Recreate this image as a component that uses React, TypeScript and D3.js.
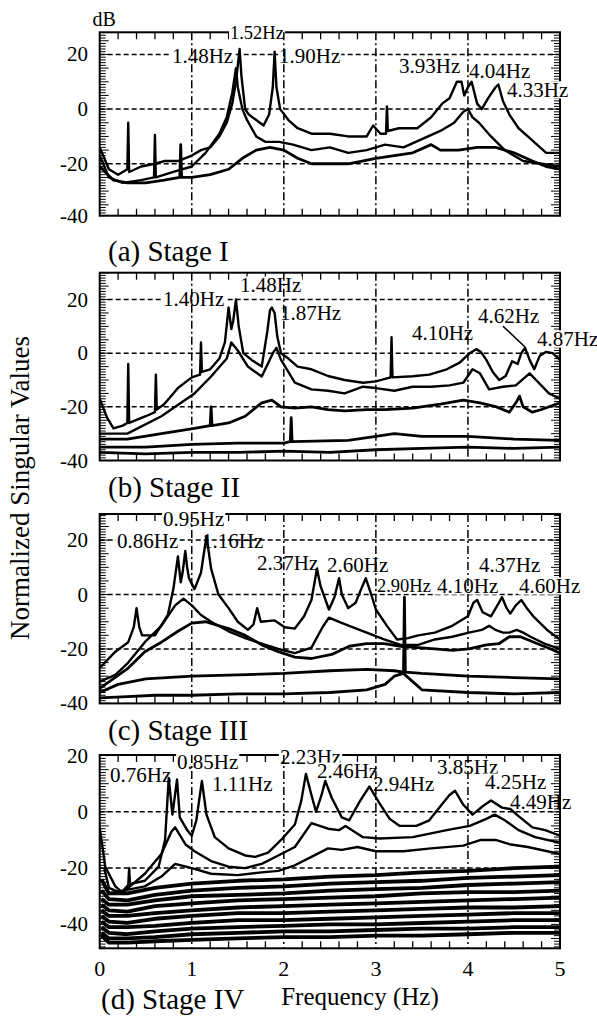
import React from 'react';
import * as d3 from 'd3';

type Pt = [number, number];

const FREQ_TICKS = [0, 1, 2, 3, 4, 5];
const DB_LABELS = [20, 0, -20, -40];
const DB_GRID = [20, 0, -20];

// ─── Stage I ────────────────────────────────────────────────────────────────
const A1: Pt[] = [[0,-14],[0.05,-18],[0.1,-22],[0.2,-24],[0.3,-22],[0.31,-5],[0.32,-23],[0.45,-21],[0.6,-20],[0.7,-19],[0.85,-19],[1.0,-17],[1.1,-15],[1.2,-14],[1.3,-10],[1.38,-5],[1.44,2],[1.48,10],[1.52,22],[1.54,12],[1.58,0],[1.62,-2],[1.7,-4],[1.78,-6],[1.84,-2],[1.88,8],[1.9,21],[1.92,8],[1.96,0],[2.05,-4],[2.15,-7],[2.3,-9],[2.5,-9],[2.7,-10],[2.9,-10],[2.97,-6],[3.05,-9],[3.11,-9],[3.12,1],[3.13,-8],[3.25,-7],[3.45,-7],[3.6,-3],[3.72,2],[3.8,4],[3.88,10],[3.93,10],[3.96,5],[4.0,8],[4.04,10],[4.1,2],[4.15,0],[4.22,4],[4.3,8],[4.33,9],[4.38,3],[4.45,-2],[4.55,-7],[4.65,-10],[4.75,-13],[4.85,-16],[5,-16]];
const A2: Pt[] = [[0,-17],[0.1,-25],[0.25,-27],[0.45,-26],[0.59,-25],[0.6,-9.5],[0.61,-25],[0.8,-23],[1.0,-21],[1.15,-16],[1.3,-9],[1.38,-3],[1.44,6],[1.48,15],[1.5,8],[1.55,0],[1.6,-4],[1.7,-10],[1.8,-12],[1.95,-12],[2.1,-13],[2.3,-15],[2.5,-14],[2.7,-16],[2.9,-15],[3.1,-13],[3.3,-14],[3.5,-11],[3.7,-8],[3.85,-5],[3.95,-1],[4.0,0],[4.05,-3],[4.12,-5],[4.25,-10],[4.4,-15],[4.6,-19],[4.8,-20],[5,-21]];
const A3: Pt[] = [[0,-21],[0.15,-26],[0.3,-27],[0.5,-27],[0.7,-26],[0.87,-25],[0.88,-13],[0.89,-25],[1.0,-25],[1.2,-24],[1.4,-22],[1.55,-18],[1.7,-15],[1.85,-14],[2.0,-15],[2.15,-18],[2.3,-20],[2.5,-20],[2.7,-20],[2.85,-19],[3.0,-18],[3.2,-17],[3.4,-16],[3.6,-13],[3.7,-15],[3.9,-15],[4.1,-14],[4.3,-14],[4.5,-16],[4.7,-19],[4.85,-21],[5,-22]];

// ─── Stage II ───────────────────────────────────────────────────────────────
const B1: Pt[] = [[0,-17],[0.08,-24],[0.15,-28],[0.25,-27],[0.3,-26],[0.31,-4],[0.32,-26],[0.5,-23.5],[0.6,-22],[0.61,-8],[0.62,-21],[0.7,-19],[0.85,-13],[1.0,-9],[1.09,-8],[1.1,4],[1.11,-7],[1.2,-6],[1.3,-2],[1.36,4],[1.4,17],[1.43,9],[1.45,12],[1.48,20],[1.51,10],[1.56,0],[1.65,-2.5],[1.76,-5],[1.82,8],[1.85,16],[1.87,17],[1.9,15],[1.93,6],[1.97,0],[2.05,-2],[2.15,-5],[2.3,-6],[2.48,-8.5],[2.66,-10],[2.86,-11],[3.0,-10.5],[3.16,-9],[3.17,6],[3.18,-9],[3.4,-8.6],[3.58,-8],[3.77,-6],[3.91,-3.5],[4.02,0],[4.09,1.5],[4.14,0.5],[4.2,-2.5],[4.27,-7],[4.34,-10],[4.41,-8.5],[4.48,-3],[4.54,-4],[4.58,0],[4.62,2],[4.67,-2.5],[4.72,-6],[4.78,-1],[4.85,0.5],[4.92,0],[5,-2.5]];
const B2: Pt[] = [[0,-30],[0.3,-30],[0.67,-23.5],[1.03,-15],[1.21,-8.7],[1.38,-2],[1.43,4],[1.5,1],[1.61,-5],[1.76,-8.7],[1.84,-3],[1.88,0],[1.92,2],[1.97,-2.5],[2.12,-11],[2.3,-13.5],[2.48,-14],[2.66,-15],[2.86,-12.5],[3.0,-13],[3.2,-14],[3.4,-12.5],[3.6,-12.5],[3.8,-12],[3.95,-11],[4.05,-6],[4.13,-7.5],[4.23,-13.5],[4.38,-12.5],[4.52,-12],[4.62,-9],[4.67,-7.5],[4.74,-10],[4.88,-15],[5,-17]];
const B3: Pt[] = [[0,-32],[0.3,-32],[0.67,-30],[1.03,-28],[1.2,-27],[1.21,-20],[1.22,-27],[1.4,-26],[1.58,-23.5],[1.76,-18.5],[1.87,-17.5],[1.97,-20],[2.12,-20.5],[2.3,-20],[2.48,-21],[2.66,-21.5],[2.9,-21],[3.1,-21],[3.4,-20.5],[3.7,-19],[3.95,-17.5],[4.13,-18.5],[4.31,-20],[4.45,-22],[4.53,-18],[4.56,-16],[4.6,-20],[4.7,-22],[4.8,-21],[5,-18.5]];
const B4: Pt[] = [[0,-35],[0.5,-35],[1.0,-34],[1.5,-33.5],[2.0,-33.5],[2.07,-33],[2.08,-24],[2.09,-33],[2.7,-32.5],[3.0,-31],[3.2,-30],[3.5,-31],[4.0,-31],[4.5,-32],[5,-32.5]];
const B5: Pt[] = [[0,-37],[0.5,-37.5],[1.0,-37],[1.5,-37],[2.0,-36.5],[2.5,-37],[3.0,-36],[3.5,-35.5],[4.0,-35],[4.5,-35.5],[5,-35]];

// ─── Stage III ──────────────────────────────────────────────────────────────
const C1: Pt[] = [[0,-27],[0.17,-21],[0.31,-17.5],[0.37,-12],[0.4,-5],[0.43,-12],[0.46,-15],[0.6,-15],[0.74,-7.5],[0.8,2],[0.85,14],[0.88,4.5],[0.9,8],[0.93,16],[0.95,10],[0.97,6],[1.03,2],[1.1,8],[1.16,21.5],[1.21,9.5],[1.29,0],[1.4,-5],[1.5,-10],[1.61,-13],[1.67,-11],[1.71,-5],[1.75,-10],[1.9,-9.5],[2.01,-12],[2.12,-12.5],[2.22,-8],[2.3,-2],[2.36,9.5],[2.4,3],[2.49,-5.5],[2.55,-1],[2.6,6],[2.63,0],[2.7,-5],[2.78,-3],[2.84,2],[2.89,6],[2.95,0],[3.0,-5.5],[3.12,-11.5],[3.23,-16.5],[3.35,-16],[3.46,-15],[3.64,-14],[3.83,-11.5],[4.0,-8],[4.06,-3],[4.1,-2],[4.16,-6.5],[4.25,-8],[4.32,-4],[4.37,-1],[4.42,-5],[4.46,-7],[4.52,-4],[4.58,-2],[4.64,-5],[4.71,-8],[4.86,-13],[5,-16.5]];
const C2: Pt[] = [[0,-32],[0.17,-29.5],[0.31,-25],[0.49,-17.5],[0.67,-11.5],[0.82,-4],[0.91,-1.5],[1.0,-4],[1.1,-7.5],[1.21,-10],[1.4,-13.5],[1.58,-16],[1.76,-18],[1.94,-20],[2.12,-21.5],[2.3,-19.5],[2.42,-12],[2.49,-8.5],[2.6,-10],[2.71,-11.5],[2.9,-14],[3.09,-16.5],[3.27,-18.5],[3.46,-18.5],[3.64,-16.5],[3.83,-15.5],[4.01,-14],[4.15,-13],[4.23,-11.5],[4.3,-13],[4.38,-14],[4.45,-14],[4.53,-13],[4.6,-14],[4.68,-15.5],[4.83,-18],[5,-20]];
const C3: Pt[] = [[0,-34.5],[0.31,-27],[0.49,-21],[0.67,-17.5],[0.85,-13.5],[1.0,-10.5],[1.15,-10],[1.4,-12.5],[1.58,-15],[1.76,-18.5],[1.94,-21],[2.12,-23],[2.3,-23.5],[2.52,-22],[2.71,-19],[2.9,-18],[3.09,-18],[3.27,-19],[3.46,-19.5],[3.64,-20],[3.83,-20.5],[4.01,-20],[4.2,-18.5],[4.34,-18],[4.45,-15.5],[4.57,-15.5],[4.75,-18],[4.9,-20],[5,-21.5]];
const C4: Pt[] = [[0,-36],[0.2,-33],[0.5,-31],[1.0,-30],[1.5,-29.5],[2.0,-29],[2.5,-28],[2.9,-27.5],[3.2,-28],[3.3,-28.5],[3.31,-1],[3.32,-28.5],[3.5,-29],[4.0,-30],[4.5,-30.5],[5,-31]];
const C5: Pt[] = [[0,-38],[0.3,-37.5],[0.6,-37],[1.0,-37],[1.5,-36.5],[2.0,-36.5],[2.5,-36],[2.9,-35],[3.1,-33],[3.2,-30],[3.3,-29],[3.4,-32],[3.5,-35],[4.0,-36],[4.5,-36.5],[5,-36]];

// ─── Stage IV ───────────────────────────────────────────────────────────────
const D1: Pt[] = [[0,-5.5],[0.06,-19.5],[0.17,-26.5],[0.24,-28.5],[0.31,-26],[0.32,-20],[0.33,-26],[0.35,-25.5],[0.49,-24.5],[0.64,-19.5],[0.71,-10],[0.75,12],[0.79,-1],[0.84,11.5],[0.87,-2],[0.95,-6.5],[1.0,-8.5],[1.05,-3],[1.11,11],[1.16,-1],[1.25,-9],[1.4,-13],[1.58,-15.5],[1.69,-16],[1.83,-14.5],[1.97,-10],[2.12,-4.5],[2.19,4],[2.24,13.5],[2.3,6],[2.35,0],[2.41,6],[2.45,11],[2.52,5],[2.63,-2],[2.71,-3],[2.83,4],[2.93,9],[3.04,3],[3.15,-2.5],[3.26,-5],[3.44,-5],[3.58,-3],[3.69,1.5],[3.8,6],[3.86,7.5],[3.95,2.5],[4.05,-1],[4.16,2],[4.25,4],[4.37,1.5],[4.46,1],[4.55,-1.5],[4.7,-5.5],[4.84,-6.5],[5,-8.5]];
const D2: Pt[] = [[0.05,-20],[0.1,-27],[0.24,-29],[0.49,-22],[0.67,-15],[0.78,-7],[0.82,-5.5],[0.93,-11.5],[1.03,-14],[1.21,-17.5],[1.4,-19.5],[1.58,-20],[1.76,-18.5],[1.94,-15.5],[2.12,-12.5],[2.3,-4],[2.48,-6],[2.6,-6.5],[2.67,-5],[2.86,-9],[3.04,-9.5],[3.4,-9],[3.77,-6.5],[4.02,-5],[4.2,-2.5],[4.29,-1],[4.4,-3],[4.55,-6.5],[4.73,-9],[5,-11]];
const D3: Pt[] = [[0.1,-29],[0.49,-26.5],[0.67,-23],[0.82,-18.5],[1.0,-20],[1.21,-22],[1.5,-22.5],[1.76,-21.5],[1.94,-21],[2.12,-19],[2.3,-16],[2.48,-13],[2.63,-13.5],[2.8,-12.5],[3.0,-14],[3.3,-14],[3.6,-13],[3.95,-12],[4.14,-10],[4.3,-10],[4.45,-11.5],[4.65,-12.5],[5,-15]];
const D4: Pt[] = [[0.02,-24],[0.1,-29],[0.3,-29],[0.6,-27],[1.0,-25.5],[1.5,-24.5],[2.0,-24],[2.5,-23],[3.0,-22.5],[3.5,-21.5],[4.0,-21],[4.5,-20],[5,-19.5]];
const D5: Pt[] = [[0.02,-28],[0.1,-31],[0.3,-31.5],[0.6,-29.5],[1.0,-28],[1.5,-27],[2.0,-26.5],[2.5,-25.5],[3.0,-25],[3.5,-24.5],[4.0,-23.5],[4.5,-23],[5,-22.5]];
const D6: Pt[] = [[0.02,-31],[0.1,-33],[0.3,-33],[0.6,-31.5],[1.0,-30],[1.5,-29.5],[2.0,-29],[2.5,-28],[3.0,-27.5],[3.5,-27],[4.0,-26],[4.5,-25.5],[5,-25]];
const D7: Pt[] = [[0.02,-33],[0.1,-35],[0.3,-35.5],[0.6,-33.5],[1.0,-32.5],[1.5,-31.5],[2.0,-31],[2.5,-30.5],[3.0,-30],[3.5,-29],[4.0,-28.5],[4.5,-28.5],[5,-28]];
const D8: Pt[] = [[0.02,-35],[0.1,-37],[0.3,-37],[0.6,-36],[1.0,-35],[1.5,-34],[2.0,-33.5],[2.5,-33],[3.0,-32.5],[3.5,-32],[4.0,-31.5],[4.5,-31],[5,-30.5]];
const D9: Pt[] = [[0.02,-37],[0.1,-39],[0.3,-39.5],[0.6,-38],[1.0,-37],[1.5,-36],[2.0,-36],[2.5,-35.5],[3.0,-35],[3.5,-34.5],[4.0,-34],[4.5,-34],[5,-33.5]];
const D10: Pt[] = [[0.02,-39],[0.1,-41],[0.3,-41],[0.6,-40.5],[1.0,-39.5],[1.5,-38.5],[2.0,-38.5],[2.5,-38],[3.0,-37.5],[3.5,-37],[4.0,-36.5],[4.5,-36],[5,-36]];
const D11: Pt[] = [[0.02,-41],[0.1,-43],[0.3,-43.5],[0.6,-42.5],[1.0,-41.5],[1.5,-41],[2.0,-40.5],[2.5,-40],[3.0,-40],[3.5,-39.5],[4.0,-39],[4.5,-38.5],[5,-38.5]];
const D12: Pt[] = [[0.02,-43],[0.1,-45],[0.3,-45],[0.6,-44.5],[1.0,-43.5],[1.5,-43],[2.0,-42.5],[2.5,-42.5],[3.0,-42],[3.5,-41.5],[4.0,-41.5],[4.5,-41],[5,-41]];
const D13: Pt[] = [[0.02,-44],[0.1,-46.5],[0.3,-46.5],[0.6,-46],[1.0,-45.5],[1.5,-45],[2.0,-44.5],[2.5,-44.5],[3.0,-44],[3.5,-44],[4.0,-43.5],[4.5,-43],[5,-43]];

// peak annotations: text, anchor (Hz, dB) of the text's left baseline
type Note = { text: string; f: number; db: number; small?: boolean; bare?: boolean };
const NOTES_A: Note[] = [
  { text: '1.52Hz', f: 1.415, db: 25.7, small: true },
  { text: '1.48Hz', f: 0.785, db: 16.9 },
  { text: '1.90Hz', f: 1.948, db: 16.9 },
  { text: '3.93Hz', f: 3.251, db: 13.2 },
  { text: '4.04Hz', f: 4.012, db: 11.4 },
  { text: '4.33Hz', f: 4.424, db: 4.5 },
];
const NOTES_B: Note[] = [
  { text: '1.48Hz', f: 1.524, db: 22.8 },
  { text: '1.40Hz', f: 0.688, db: 17.6 },
  { text: '1.87Hz', f: 1.958, db: 12.4 },
  { text: '4.10Hz', f: 3.392, db: 4.9 },
  { text: '4.62Hz', f: 4.109, db: 11.2 },
  { text: '4.87Hz', f: 4.75, db: 2.7 },
];
const NOTES_C: Note[] = [
  { text: '0.95Hz', f: 0.688, db: 25.2 },
  { text: '0.86Hz', f: 0.188, db: 17.1 },
  { text: '1.16Hz', f: 1.111, db: 17.1, bare: true },
  { text: '2.37Hz', f: 1.709, db: 9.0 },
  { text: '2.60Hz', f: 2.469, db: 8.3 },
  { text: '2.90Hz', f: 3.012, db: 0.9, small: true },
  { text: '4.10Hz', f: 3.664, db: 0.6 },
  { text: '4.37Hz', f: 4.12, db: 8.3 },
  { text: '4.60Hz', f: 4.555, db: 0.6 },
];
const NOTES_D: Note[] = [
  { text: '0.76Hz', f: 0.113, db: 10.6 },
  { text: '0.85Hz', f: 0.84, db: 15.2 },
  { text: '1.11Hz', f: 1.22, db: 7.4 },
  { text: '2.23Hz', f: 1.958, db: 16.9 },
  { text: '2.46Hz', f: 2.36, db: 12.0 },
  { text: '2.94Hz', f: 2.969, db: 7.4 },
  { text: '3.85Hz', f: 3.664, db: 13.4 },
  { text: '4.25Hz', f: 4.185, db: 8.1 },
  { text: '4.49Hz', f: 4.457, db: 1.1, bare: true },
];
// leader from the 4.62Hz label to its peak (Stage II)
const LEADERS_B: [Pt, Pt][] = [[[4.38, 10.1], [4.62, 2.3]]];

const NONE: [Pt, Pt][] = [];
const STAGES = [
  { title: '(a) Stage I', curves: [A1, A2], low: [A3], notes: NOTES_A, leaders: NONE },
  { title: '(b) Stage II', curves: [B1, B2], low: [B3, B4, B5], notes: NOTES_B, leaders: LEADERS_B },
  { title: '(c) Stage III', curves: [C1, C2], low: [C3, C4, C5], notes: NOTES_C, leaders: NONE },
  { title: '(d) Stage IV', curves: [D1, D2, D3], low: [D4, D5, D6, D7, D8, D9, D10, D11, D12, D13], notes: NOTES_D, leaders: NONE },
];

// ─── Layout ─────────────────────────────────────────────────────────────────
const W = 597;
const H = 1016;
const X_RANGE: [number, number] = [99.7, 560];
const FRAMES = [
  { top: 32.3, bottom: 215.7, dbTop: 28.1, dbBottom: -39, titleX: 108, titleY: 261, lowWidth: 2.8 },
  { top: 272.7, bottom: 460.5, dbTop: 30, dbBottom: -40, titleX: 108, titleY: 497, lowWidth: 2.8 },
  { top: 514, bottom: 703.4, dbTop: 29.6, dbBottom: -40, titleX: 108, titleY: 740, lowWidth: 2.8 },
  { top: 755, bottom: 948.3, dbTop: 20.2, dbBottom: -48.5, titleX: 101, titleY: 1009, lowWidth: 3.8 },
];
const FONT = '"Liberation Serif", "Times New Roman", Times, serif';
const NOTE_SIZE = 21;
const NOTE_SMALL = 18.5;

function Panel({ frame, stage, last }: { frame: typeof FRAMES[number]; stage: typeof STAGES[number]; last: boolean }) {
  const x = d3.scaleLinear().domain([0, 5]).range(X_RANGE);
  const y = d3.scaleLinear().domain([frame.dbBottom, frame.dbTop]).range([frame.bottom, frame.top]);
  const line = d3.line<Pt>().x(d => x(d[0])).y(d => y(d[1]));
  const [x0, x1] = X_RANGE;

  const minorX = d3.range(1, 25).filter(i => i % 5 !== 0).map(i => i / 5);
  const yTicks = d3.range(Math.ceil(frame.dbBottom), Math.floor(frame.dbTop) + 1);
  const tickLen = (v: number) => (v % 5 === 0 ? 9 : 6);

  return (
    <g>
      <defs>
        <clipPath id={'clip' + frame.top}>
          <rect x={x0} y={frame.top} width={x1 - x0} height={frame.bottom - frame.top} />
        </clipPath>
      </defs>

      {/* Horizontal grid */}
      {DB_GRID.filter(v => v < frame.dbTop - 0.5 && v > frame.dbBottom).map(v => (
        <line key={'h' + v} x1={x0} x2={x1} y1={y(v)} y2={y(v)}
          stroke="#000" strokeWidth={1.5} strokeDasharray="5,3" />
      ))}

      {/* Frame + ticks */}
      <rect x={x0} y={frame.top} width={x1 - x0} height={frame.bottom - frame.top}
        fill="none" stroke="#000" strokeWidth={2} />
      {minorX.map(v => (
        <g key={'tx' + v}>
          <line x1={x(v)} x2={x(v)} y1={frame.top} y2={frame.top + 7} stroke="#000" strokeWidth={1.3} />
          <line x1={x(v)} x2={x(v)} y1={frame.bottom} y2={frame.bottom - 7} stroke="#000" strokeWidth={1.3} />
        </g>
      ))}
      {yTicks.map(v => (
        <g key={'ty' + v}>
          <line x1={x0} x2={x0 + tickLen(v)} y1={y(v)} y2={y(v)} stroke="#000" strokeWidth={1} />
          <line x1={x1} x2={x1 - tickLen(v)} y1={y(v)} y2={y(v)} stroke="#000" strokeWidth={1} />
        </g>
      ))}

      {/* Y tick labels */}
      {DB_LABELS.filter(v => y(v) > frame.top - 4).map(v => (
        <text key={'ly' + v} x={88} y={Math.min(y(v), frame.bottom)} textAnchor="end"
          dominantBaseline="central" fontSize={21} fontFamily={FONT}>{v}</text>
      ))}

      {/* Peak labels */}
      {stage.notes.map(n => {
        const fs = n.small ? NOTE_SMALL : NOTE_SIZE;
        const tx = x(n.f);
        const ty = y(n.db);
        return (
          <g key={n.text + n.f}>
            {!n.bare && (
              <rect x={tx - 1} y={ty - fs * 0.74} width={fs * 2.916 + 2} height={fs * 0.82} fill="#fff" />
            )}
            <text x={tx} y={ty} fontSize={fs} fontFamily={FONT}>{n.text}</text>
          </g>
        );
      })}

      {/* Vertical grid */}
      {[1, 2, 3, 4].map(v => (
        <line key={'v' + v} x1={x(v)} x2={x(v)} y1={frame.top} y2={frame.bottom}
          stroke="#000" strokeWidth={1.5} strokeDasharray="8,3,2,3" />
      ))}

      {/* Spectra */}
      <g clipPath={`url(#clip${frame.top})`}>
        {stage.low.map((c, i) => (
          <path key={'lo' + i} d={line(c) ?? ''} fill="none" stroke="#000"
            strokeWidth={frame.lowWidth} strokeLinejoin="round" />
        ))}
        {stage.curves.map((c, i) => (
          <path key={'c' + i} d={line(c) ?? ''} fill="none" stroke="#000" strokeWidth={2.4} strokeLinejoin="round" />
        ))}
      </g>
      {stage.leaders.map(([a, b], i) => (
        <line key={'ld' + i} x1={x(a[0])} y1={y(a[1])} x2={x(b[0])} y2={y(b[1])} stroke="#000" strokeWidth={1.5} />
      ))}

      {/* Stage title */}
      <text x={frame.titleX} y={frame.titleY} fontSize={29} fontFamily={FONT}>{stage.title}</text>

      {last && FREQ_TICKS.map(v => (
        <text key={'lx' + v} x={x(v)} y={976} textAnchor="middle" fontSize={22} fontFamily={FONT}>{v}</text>
      ))}
    </g>
  );
}

export default function App() {
  return (
    <svg width={W} height={H} viewBox={`0 0 ${W} ${H}`}
      style={{ position: 'absolute', left: 0, top: 0, background: '#fff' }}>
      <rect width={W} height={H} fill="#fff" />
      {FRAMES.map((f, i) => (
        <Panel key={i} frame={f} stage={STAGES[i]} last={i === FRAMES.length - 1} />
      ))}
      <text x={92.5} y={26} fontSize={20} fontFamily={FONT}>dB</text>
      <text x={360} y={1005} textAnchor="middle" fontSize={25} fontFamily={FONT}>Frequency (Hz)</text>
      <text transform="translate(29,488) rotate(-90)" textAnchor="middle" fontSize={27} fontFamily={FONT}>
        Normalized Singular Values
      </text>
    </svg>
  );
}
